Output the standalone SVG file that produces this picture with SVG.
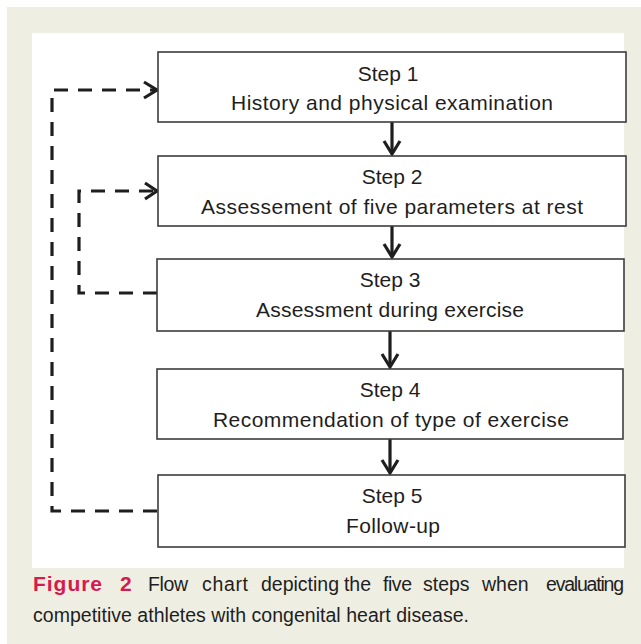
<svg xmlns="http://www.w3.org/2000/svg" width="641" height="644" viewBox="0 0 641 644">
<style>
.box{fill:#ffffff;stroke:#3c3c3c;stroke-width:1.6}
.t{font-family:"Liberation Sans",Arial,sans-serif;font-size:21px;fill:#1e1e1e;text-anchor:middle}
.dash{fill:none;stroke:#1e1e1e;stroke-width:3.2;stroke-dasharray:14 10}
.head{fill:none;stroke:#1e1e1e;stroke-width:3.2;stroke-linecap:butt;stroke-linejoin:miter}
.solid{fill:none;stroke:#1e1e1e;stroke-width:3.2}
.cap{font-family:"Liberation Sans",Arial,sans-serif;font-size:19.5px;fill:#1e1e1e}
.fig{font-family:"Liberation Sans",Arial,sans-serif;font-size:21px;font-weight:bold;fill:#d61a4d}
</style>
<rect x="0" y="0" width="641" height="644" fill="#ffffff"/>
<rect x="7" y="7" width="634" height="637" fill="#efeee3"/>
<rect x="32" y="33" width="592" height="535" fill="#ffffff"/>

<g id="connectors">
  <path class="dash" d="M157,511 H52 V90 H157"/>
  <polyline class="head" points="144,82 157,90 144,98"/>
  <path class="dash" d="M157,293 H79 V191 H157"/>
  <polyline class="head" points="145,183 157,191 145,199"/>
  <line class="solid" x1="392" y1="122" x2="392" y2="153"/>
  <polyline class="head" points="384,141 392,154 400,141"/>
  <line class="solid" x1="392" y1="226" x2="392" y2="256"/>
  <polyline class="head" points="384,244 392,257 400,244"/>
  <line class="solid" x1="390" y1="331" x2="390" y2="366"/>
  <polyline class="head" points="382,354 390,367 398,354"/>
  <line class="solid" x1="390" y1="439" x2="390" y2="472"/>
  <polyline class="head" points="382,460 390,473 398,460"/>
</g>

<g id="step1">
  <rect class="box" x="158" y="52" width="468" height="70"/>
  <text class="t" x="388" y="81">Step 1</text>
  <text class="t" x="392" y="110" textLength="322" lengthAdjust="spacing">History and physical examination</text>
</g>
<g id="step2">
  <rect class="box" x="158" y="156" width="468" height="70"/>
  <text class="t" x="392" y="184">Step 2</text>
  <text class="t" x="392" y="214" textLength="382" lengthAdjust="spacing">Assessement of five parameters at rest</text>
</g>
<g id="step3">
  <rect class="box" x="157" y="259" width="467" height="72"/>
  <text class="t" x="390" y="287">Step 3</text>
  <text class="t" x="390" y="317" textLength="268" lengthAdjust="spacing">Assessment during exercise</text>
</g>
<g id="step4">
  <rect class="box" x="157" y="369" width="466" height="70"/>
  <text class="t" x="390" y="397">Step 4</text>
  <text class="t" x="391" y="427" textLength="356" lengthAdjust="spacing">Recommendation of type of exercise</text>
</g>
<g id="step5">
  <rect class="box" x="158" y="475" width="467" height="72"/>
  <text class="t" x="392" y="503">Step 5</text>
  <text class="t" x="393" y="533" textLength="94" lengthAdjust="spacing">Follow-up</text>
</g>

<g id="caption">
  <text class="fig" x="33" y="591" textLength="69" lengthAdjust="spacing">Figure</text>
  <text class="fig" x="120" y="591">2</text>
  <text class="cap" y="591"><tspan x="148" textLength="40" lengthAdjust="spacing">Flow</tspan><tspan x="202" textLength="46" lengthAdjust="spacing">chart</tspan><tspan x="261" textLength="78" lengthAdjust="spacing">depicting</tspan><tspan x="344" textLength="27" lengthAdjust="spacing">the</tspan><tspan x="383" textLength="29" lengthAdjust="spacing">five</tspan><tspan x="423">steps</tspan><tspan x="482">when</tspan><tspan x="546" textLength="78" lengthAdjust="spacing">evaluating</tspan></text>
  <text class="cap" x="33" y="622" textLength="436" lengthAdjust="spacing">competitive athletes with congenital heart disease.</text>
</g>
</svg>
